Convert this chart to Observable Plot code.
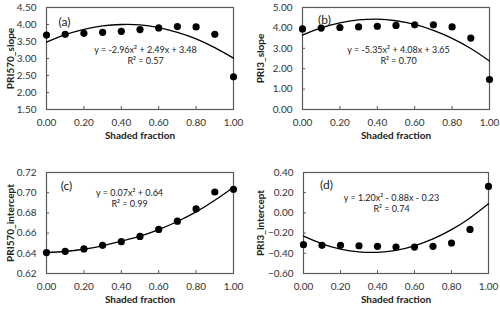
<!DOCTYPE html>
<html><head><meta charset="utf-8">
<script src="https://cdn.jsdelivr.net/npm/d3@7"></script>
<script src="https://cdn.jsdelivr.net/npm/@observablehq/plot@0.6"></script>
<style>
body{margin:0;background:#fff;}
#chart{position:relative;width:500px;height:310px;font-family:Lato,sans-serif;}
#chart svg{position:absolute;overflow:visible;}
</style></head>
<body><div id="chart"></div>
<script>
// Shaded fraction (x)
const shadedFraction = [0.0, 0.1, 0.2, 0.3, 0.4, 0.5, 0.6, 0.7, 0.8, 0.9, 1.0];
// Observed values
const pri570Slope     = [3.69, 3.71, 3.74, 3.77, 3.80, 3.85, 3.90, 3.94, 3.93, 3.71, 2.46];
const pri3Slope       = [3.95, 3.99, 4.02, 4.05, 4.08, 4.12, 4.15, 4.15, 4.05, 3.50, 1.47];
const pri570Intercept = [0.6407, 0.6420, 0.6443, 0.6479, 0.6515, 0.6567, 0.6636, 0.6718, 0.6839, 0.7007, 0.7033];
const pri3Intercept   = [-0.315, -0.321, -0.321, -0.325, -0.331, -0.338, -0.338, -0.331, -0.298, -0.164, 0.262];
// Trendline values at each shaded fraction
const pri570SlopeFit     = [3.48, 3.70, 3.86, 3.96, 4.00, 3.99, 3.91, 3.77, 3.58, 3.32, 3.01];
const pri3SlopeFit       = [3.65, 4.00, 4.25, 4.39, 4.43, 4.35, 4.17, 3.88, 3.49, 2.99, 2.38];
const pri570InterceptFit = [0.6410, 0.6418, 0.6440, 0.6474, 0.6520, 0.6570, 0.6635, 0.6715, 0.6810, 0.6925, 0.7055];
const pri3InterceptFit   = [-0.230, -0.306, -0.358, -0.386, -0.390, -0.370, -0.326, -0.258, -0.166, -0.050, 0.090];
// Tick values
const xTicks  = [0, 0.2, 0.4, 0.6, 0.8, 1.0];
const yTicksA = [1.5, 2.0, 2.5, 3.0, 3.5, 4.0, 4.5];
const yTicksB = [0, 1, 2, 3, 4, 5];
const yTicksC = [0.62, 0.64, 0.66, 0.68, 0.70, 0.72];
const yTicksD = [-0.6, -0.4, -0.2, 0.0, 0.2, 0.4];
// Labels
const yLabels = ["PRI570_slope", "PRI3_slope", "PRI570_intercept", "PRI3_intercept"];
const panelTags = ["(a)", "(b)", "(c)", "(d)"];
const equations = ["y = -2.96x² + 2.49x + 3.48", "y = -5.35x² + 4.08x + 3.65", "y = 0.07x² + 0.64", "y = 1.20x² - 0.88x - 0.23"];
const r2Labels = ["R² = 0.57", "R² = 0.70", "R² = 0.99", "R² = 0.74"];
const xLabel = "Shaded fraction";

const fmt = d3.format(".2f");
const axisColor = "#595959";

function panel(o) {
  const data = shadedFraction.map((x, i) => ({x, y: o.values[i], f: o.fit[i]}));
  const plotH = o.height - o.mT - o.mB;
  const plotW = o.width - o.mL - o.mR;
  const svg = Plot.plot({
    width: o.width, height: o.height,
    marginLeft: o.mL, marginRight: o.mR, marginTop: o.mT, marginBottom: o.mB,
    style: {fontFamily: "Lato, sans-serif", fontSize: "10px", color: "#333", background: "transparent", overflow: "visible"},
    x: {domain: [0, 1]},
    y: {domain: [o.yTicks[0], o.yTicks[o.yTicks.length - 1]]},
    marks: [
      Plot.axisX({ticks: xTicks, tickFormat: fmt, tickSize: 0, tickPadding: 9, label: null}),
      Plot.axisY({ticks: o.yTicks, tickFormat: fmt, tickSize: 0, tickPadding: 10, label: null}),
      Plot.tickX(xTicks, {x: d => d, stroke: axisColor, insetTop: plotH - 3}),
      Plot.tickY(o.yTicks, {y: d => d, stroke: axisColor, insetRight: plotW - 3}),
      Plot.frame({stroke: axisColor, strokeWidth: 1.2}),
      Plot.line(data, {x: "x", y: "f", curve: "natural", stroke: "black", strokeWidth: 1.3}),
      Plot.dot(data, {x: "x", y: "y", r: 3.6, fill: "black", stroke: "none"}),
      Plot.text([o.tag], {frameAnchor: "top-left", dx: o.tagX, dy: o.tagY, textAnchor: "middle", fontSize: 12, fill: "#222"}),
      Plot.text([o.eq], {frameAnchor: "top-left", dx: o.eqX, dy: o.eqY, textAnchor: "middle", fontSize: 9, fill: "#222"}),
      Plot.text([o.r2], {frameAnchor: "top-left", dx: o.eqX, dy: o.eqY + 11, textAnchor: "middle", fontSize: 9, fill: "#222"}),
      Plot.text([xLabel], {frameAnchor: "bottom", dy: 29, textAnchor: "middle", fontSize: 10, fontWeight: "bold", fill: "#222"}),
      Plot.text([o.yLabel], {frameAnchor: "left", dx: -(o.mL - 10), rotate: -90, textAnchor: "middle", fontSize: 10, fontWeight: "bold", fill: "#222"})
    ]
  });
  svg.style.left = o.left + "px";
  svg.style.top = o.top + "px";
  document.getElementById("chart").appendChild(svg);
}

panel({left: 0, top: 0, width: 250, height: 155, mL: 46, mR: 17, mT: 7, mB: 46,
  values: pri570Slope, fit: pri570SlopeFit, yTicks: yTicksA, yLabel: yLabels[0], tag: panelTags[0],
  eq: equations[0], r2: r2Labels[0], eqX: 99, eqY: 39, tagX: 18, tagY: 10});
panel({left: 250, top: 0, width: 250, height: 155, mL: 52, mR: 11, mT: 7, mB: 46,
  values: pri3Slope, fit: pri3SlopeFit, yTicks: yTicksB, yLabel: yLabels[1], tag: panelTags[1],
  eq: equations[1], r2: r2Labels[1], eqX: 96, eqY: 39, tagX: 22, tagY: 8});
panel({left: 0, top: 155, width: 250, height: 155, mL: 46, mR: 17, mT: 17, mB: 37,
  values: pri570Intercept, fit: pri570InterceptFit, yTicks: yTicksC, yLabel: yLabels[2], tag: panelTags[2],
  eq: equations[2], r2: r2Labels[2], eqX: 83, eqY: 17, tagX: 20, tagY: 9});
panel({left: 250, top: 155, width: 250, height: 155, mL: 53, mR: 12, mT: 17, mB: 37,
  values: pri3Intercept, fit: pri3InterceptFit, yTicks: yTicksD, yLabel: yLabels[3], tag: panelTags[3],
  eq: equations[3], r2: r2Labels[3], eqX: 88, eqY: 22, tagX: 23, tagY: 8});
</script>
</body></html>
